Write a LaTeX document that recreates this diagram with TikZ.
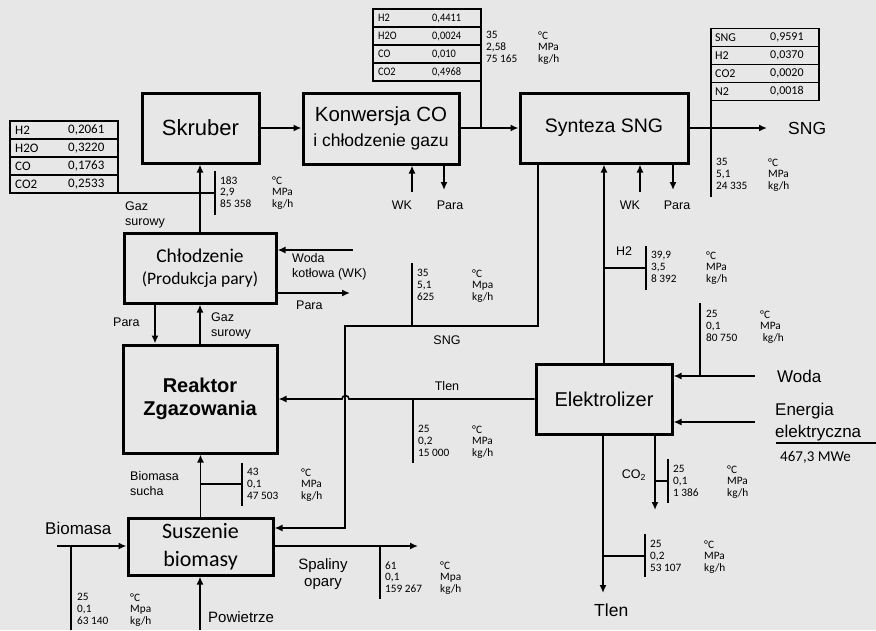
\documentclass[tikz,border=0pt]{standalone}
\usepackage{fontspec}
\setmainfont{Liberation Sans}
\newfontfamily\cfont{Carlito}
\newfontfamily\cfontc[FakeStretch=0.9]{Carlito}
\usetikzlibrary{arrows.meta}
\definecolor{bgc}{RGB}{231,231,231}
\newcommand\fs[2]{\fontsize{#1}{#2}\selectfont}
\newcommand\dblk[6]{%
  \node[dat] (#1v) at (#2,{#3-3.6}) {#5};
  \node[dat] (#1u) at (#4,{#3-3.6}) {#6};}
\begin{document}
\begin{tikzpicture}[x=1pt,y=-1pt,
  box/.style={draw, line width=3pt, inner sep=0pt, align=center},
  arr/.style={line width=1.6pt, -{Latex[length=8pt,width=7pt]}},
  tick/.style={line width=1.3pt},
  tab/.style={line width=1.2pt},
  dat/.style={font=\cfont\fs{11.3}{11.6}, align=left, anchor=north west, inner sep=0pt},
  lab/.style={font=\fs{12.5}{15.5}, inner sep=0pt, align=left},
  big/.style={font=\fs{17}{22}, inner sep=0pt, align=left},
  tA/.style={font=\cfont\fs{13}{14}, inner sep=0pt, anchor=west},
  tB/.style={font=\cfontc\fs{11.5}{13}, inner sep=0pt, anchor=west},
  tC/.style={font=\cfont\fs{12}{13}, inner sep=0pt, anchor=west},
]
\fill[bgc] (0,0) rectangle (876,630);
\useasboundingbox (0,0) rectangle (876,630);

% ---- boxes
\node[box, minimum width=117pt, minimum height=70pt, font=\fs{22}{26}] (skr) at (200.5,128) {Skruber};
\node[box, minimum width=156pt, minimum height=71pt, font=\fs{20.5}{25}] (konw) at (381,128.5) {Konwersja CO\\{\fs{17.5}{25}i chłodzenie gazu}};
\node[box, minimum width=168pt, minimum height=70pt, font=\fs{19.5}{24}] (synt) at (604,128) {Synteza SNG};
\node[box, minimum width=152pt, minimum height=70pt, font=\cfont\fs{19.5}{22}] (chl) at (200,268) {Chłodzenie\\{\fs{17.5}{22}(Produkcja pary)}};
\node[box, minimum width=154pt, minimum height=108pt, font=\bfseries\fs{20}{23}] (reak) at (200,399) {Reaktor\\Zgazowania};
\node[box, minimum width=145pt, minimum height=57pt, font=\cfont\fs{22}{28}] (susz) at (200.5,546.5) {Suszenie\\biomasy};
\node[box, minimum width=136pt, minimum height=70pt, font=\fs{20}{24}] (elek) at (604,399) {Elektrolizer};

% ---- main connectors
\draw[arr] (skr.east) -- (skr.east -| konw.west);
\draw[arr] (skr.east -| konw.east) -- (skr.east -| synt.west);
\coordinate (sngend) at (767,128);
\draw[arr] (synt.east) -- (sngend);
\draw[arr] (chl.north) -- (chl.north |- skr.south);
\draw[arr] ([xshift=-45pt]chl.south) -- ([xshift=-45pt]chl.south |- reak.north);
\draw[arr] (reak.north) -- (reak.north |- chl.south);
\coordinate (wkin) at (353,250);
\draw[arr] (wkin) -- (wkin -| chl.east);
\coordinate (paraout) at (350,293);
\draw[arr] (paraout -| chl.east) -- (paraout);
\coordinate (wk1) at (412,192);
\draw[arr] (wk1) -- (wk1 |- konw.south);
\coordinate (pa1) at (444,190);
\draw[arr] (pa1 |- konw.south) -- (pa1);
\coordinate (wk2) at (640,192);
\draw[arr] (wk2) -- (wk2 |- synt.south);
\coordinate (pa2) at (673,190);
\draw[arr] (pa2 |- synt.south) -- (pa2);
\draw[arr] (elek.north) -- (synt.south);
\coordinate (sngx) at (538,326);
\coordinate (s1) at (345,326);
\coordinate (s2) at (345,528);
\draw[arr] (sngx |- synt.south) -- (sngx) -- (s1) -- (s2) -- (s2 -| susz.east);
\coordinate (jmp) at (349,399);
\draw[arr] (elek.west) -- (jmp) arc[start angle=0, end angle=180, radius=3.5pt] -- (reak.east);
\draw[arr] (susz.north) -- (susz.north |- reak.south);
\coordinate (bin) at (57,546);
\draw[arr] (bin) -- (bin -| susz.west);
\coordinate (pow) at (200,630);
\draw[arr] (pow) -- (pow |- susz.south);
\coordinate (sp) at (418,546);
\draw[arr] (sp -| susz.east) -- (sp);
\coordinate (wo) at (755,376);
\draw[arr] (wo) -- (wo -| elek.east);
\coordinate (en) at (755,422);
\draw[arr] (en) -- (en -| elek.east);
\coordinate (co) at (655,510);
\draw[arr] (co |- elek.south) -- (co);
\coordinate (tl) at (603,593);
\draw[arr] (tl |- elek.south) -- (tl);

% ---- ticks
\draw[tick] (215,171) -- (215,215);
\draw[tick] (412,263) -- (412,326);
\draw[tick] (603,268) -- (646,268) (646,246) -- (646,290);
\draw[tick] (700,303) -- (700,376);
\draw[tick] (413,399) -- (413,463);
\draw[tick] (200,484) -- (242,484) (242,463) -- (242,506);
\draw[tick] (71,546) -- (71,630);
\draw[tick] (380,546) -- (380,599);
\draw[tick] (655,481) -- (668,481) (668,459) -- (668,503);
\draw[tick] (603,556) -- (645,556) (645,534) -- (645,577);
\draw[tick] (776,443) -- (876,443);

% ---- tables
\foreach \i/\a/\b in {0/H2/{0,2061},1/H2O/{0,3220},2/CO/{0,1763},3/CO2/{0,2533}} {
  \draw[tab] (10,121+18*\i) rectangle (118,139+18*\i);
  \node[tA] (tla\i) at (15,130+18*\i) {\a};
  \node[tA] (tlb\i) at (68,130+18*\i) {\b};
}
\draw[tab] (118,193) -- (215,193);
\foreach \i/\a/\b in {0/H2/{0,4411},1/H2O/{0,0024},2/CO/{0,010},3/CO2/{0,4968}} {
  \draw[tab] (373,9+18*\i) rectangle (481,27+18*\i);
  \node[tB] (tma\i) at (378,18+18*\i) {\a};
  \node[tB] (tmb\i) at (432,18+18*\i) {\b};
}
\draw[tick] (481,81) -- (481,128);
\foreach \i/\a/\b in {0/SNG/{0,9591},1/H2/{0,0370},2/CO2/{0,0020},3/N2/{0,0018}} {
  \draw[tab] (711,28.5+18*\i) rectangle (819,46.5+18*\i);
  \node[tC] (tra\i) at (715,37.5+18*\i) {\a};
  \node[tC] (trb\i) at (770,37.5+18*\i) {\b};
}
\draw[tick] (711,100.5) -- (711,197);

% ---- data blocks
\dblk{d1}{220}{180}{272}{183\\2,9\\85 358}{°C\\MPa\\kg/h}
\dblk{d2}{486}{35}{538}{35\\2,58\\75 165}{°C\\MPa\\kg/h}
\dblk{d3}{716}{162}{768}{35\\5,1\\24 335}{°C\\MPa\\kg/h}
\dblk{d4}{417}{273}{472}{35\\5,1\\625}{°C\\Mpa\\kg/h}
\dblk{d5}{651}{255}{706}{39,9\\3,5\\8 392}{°C\\MPa\\kg/h}
\dblk{d6}{706}{314}{760}{25\\0,1\\80 750}{°C\\MPa\\\ kg/h}
\dblk{d7}{418}{429}{472}{25\\0,2\\15 000}{°C\\MPa\\kg/h}
\dblk{d8}{247}{472}{301}{43\\0,1\\47 503}{°C\\MPa\\kg/h}
\dblk{d9}{673}{469}{727}{25\\0,1\\1 386}{°C\\MPa\\kg/h}
\dblk{d10}{650}{544}{704}{25\\0,2\\53 107}{°C\\MPa\\kg/h}
\dblk{d11}{385}{565}{440}{61\\0,1\\159 267}{°C\\Mpa\\kg/h}
\dblk{d12}{77}{597}{130}{25\\0,1\\63 140}{°C\\Mpa\\kg/h}

% ---- labels
\node[lab,anchor=west] (gs1) at (125,215) {Gaz\\surowy};
\node[lab,anchor=west] (para1) at (113,322) {Para};
\node[lab,anchor=west] (gs2) at (211,326) {Gaz\\surowy};
\node[lab,anchor=west] (wkl) at (292,267) {Woda\\kotłowa (WK)};
\node[lab,anchor=west] (para2) at (296,305) {Para};
\node[lab] (wk1l) at (402,205) {WK};
\node[lab] (pa1l) at (450,205) {Para};
\node[lab] (wk2l) at (630,205) {WK};
\node[lab] (pa2l) at (677,205) {Para};
\node[lab] (sngm) at (447,340) {SNG};
\node[lab] (h2l) at (624,251) {H2};
\node[lab] (tlm) at (447,386) {Tlen};
\node[lab,anchor=west] (bs) at (130,483.5) {Biomasa\\sucha};
\node[lab,align=center,font=\fs{15}{17}] (spl) at (323,574) {Spaliny\\opary};
\node[lab] (co2l) at (634,475) {CO\textsubscript{2}};

\node[big,anchor=west,font=\fs{17.5}{22}] (sngr) at (788,128) {SNG};
\node[big,anchor=west] (bio) at (45,528) {Biomasa};
\node[big,anchor=west,font=\fs{15}{18}] (pw) at (208,617) {Powietrze};
\node[big,anchor=west] (wod) at (777,376) {Woda};
\node[big,anchor=west] (ene) at (775,422) {Energia\\elektryczna};
\node[anchor=west,inner sep=0pt,font=\cfont\fs{15}{18}] (mwe) at (780,457) {467,3 MWe};
\node[big,anchor=west,font=\fs{17.5}{22}] (tlb) at (594,610) {Tlen};
\end{tikzpicture}
\end{document}
